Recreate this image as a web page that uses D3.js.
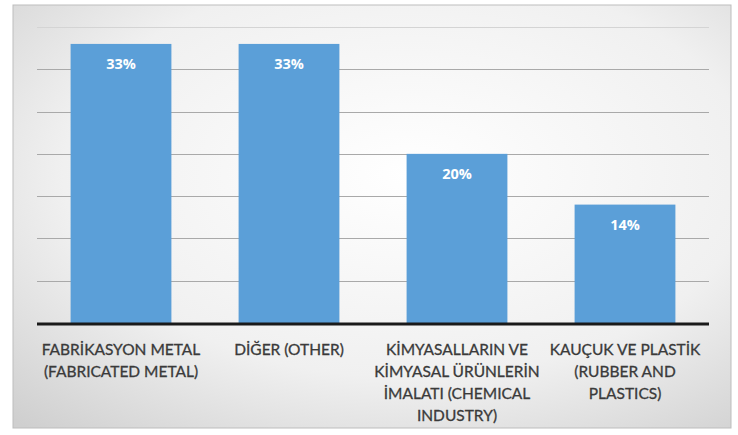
<!DOCTYPE html>
<html><head><meta charset="utf-8">
<script src="https://cdn.jsdelivr.net/npm/d3@7"></script>
<style>body{margin:0;background:#fff;}svg{display:block;}</style>
</head><body>
<script>
const categories = [
  ["FABRİKASYON METAL", "(FABRICATED METAL)"],
  ["DİĞER (OTHER)"],
  ["KİMYASALLARIN VE", "KİMYASAL ÜRÜNLERİN", "İMALATI (CHEMICAL", "INDUSTRY)"],
  ["KAUÇUK VE PLASTİK", "(RUBBER AND", "PLASTICS)"]
];
const values = [33, 33, 20, 14];
const valueLabels = ["33%", "33%", "20%", "14%"];
const gridTicks = [5, 10, 15, 20, 25, 30, 35];

const W = 738, H = 435;
const svg = d3.select("body").append("svg").attr("width", W).attr("height", H);
const defs = svg.append("defs");
const rg = defs.append("radialGradient").attr("id","bg").attr("cx","0.55").attr("cy","0.4").attr("r","0.8");
rg.append("stop").attr("offset","0").attr("stop-color","#ffffff");
rg.append("stop").attr("offset","0.6").attr("stop-color","#f0f0f0");
rg.append("stop").attr("offset","1").attr("stop-color","#cfcfcf");

svg.append("rect").attr("x",13).attr("y",5).attr("width",718).attr("height",423)
  .attr("fill","url(#bg)").attr("stroke","#bdbdbd").attr("stroke-width",1);

const x = d3.scaleBand().domain(d3.range(categories.length)).range([37, 709]).paddingInner(0.4).paddingOuter(0.2);
const y = d3.scaleLinear().domain([0, 35]).range([323, 27]);

svg.append("g").selectAll("line").data(gridTicks).join("line")
  .attr("x1", 37).attr("x2", 709)
  .attr("y1", d => Math.round(y(d)) + 0.5).attr("y2", d => Math.round(y(d)) + 0.5)
  .attr("stroke", d => d === 35 ? "#d4d4d4" : "#a9a9a9").attr("stroke-width", 1.2);

svg.append("g").selectAll("rect").data(values).join("rect")
  .attr("x", (d,i) => x(i)).attr("width", x.bandwidth())
  .attr("y", d => y(d)).attr("height", d => y(0) - y(d))
  .attr("fill", "#5b9fd8");

svg.append("g").selectAll("text").data(values).join("text")
  .attr("x", (d,i) => x(i) + x.bandwidth()/2)
  .attr("y", d => y(d) + 25)
  .attr("text-anchor","middle").attr("fill","#fff")
  .attr("font-family","'Open Sans', sans-serif").attr("font-weight","bold").attr("font-size",14.5)
  .text((d,i) => valueLabels[i]);

svg.append("line").attr("x1",37).attr("x2",709).attr("y1",y(0)+1).attr("y2",y(0)+1)
  .attr("stroke","#1a1a1a").attr("stroke-width",3);

const lab = svg.append("g").selectAll("text").data(categories).join("text")
  .attr("text-anchor","middle").attr("fill","#3a3a3a")
  .attr("font-family","Lato, sans-serif").attr("font-size",15.5)
  .attr("stroke","#3a3a3a").attr("stroke-width",0.3)
  .attr("transform",(d,i) => `translate(${x(i)+x.bandwidth()/2},355)`);
lab.selectAll("tspan").data(d => d).join("tspan")
  .attr("x",0).attr("dy",(d,j) => j === 0 ? 0 : 22).text(d => d);
</script>
</body></html>
